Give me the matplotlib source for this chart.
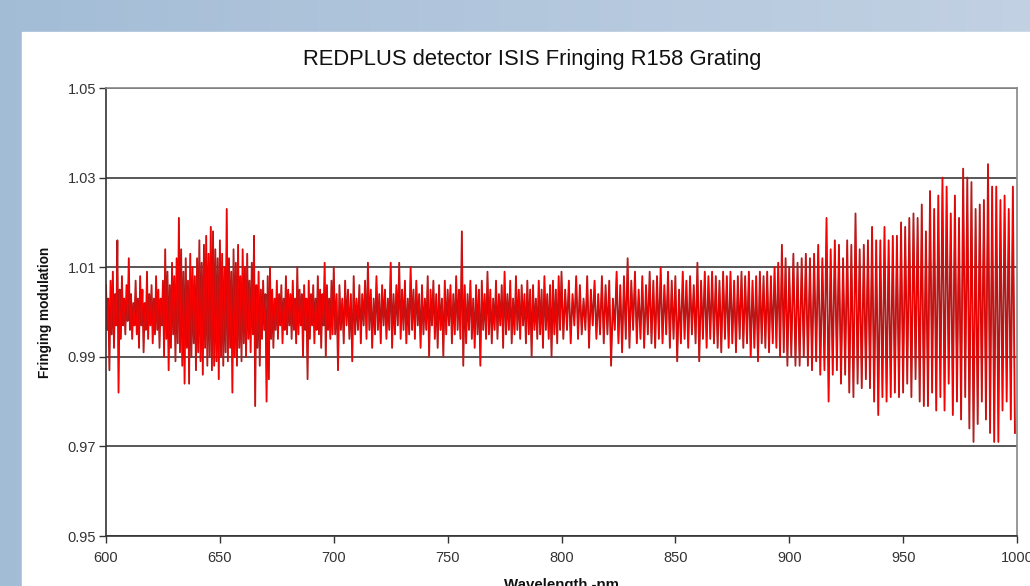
import matplotlib.pyplot as plt
import numpy as np
from matplotlib.patches import Rectangle

plt.rcParams['font.family'] = ['Liberation Sans', 'DejaVu Sans']

# fringing modulation, offsets from 1.0 in units of 0.001 (alternating peak / trough)
seg_600_700 = [
    6, -4, 3, -13, 7, -5, 9, -8, 4, -3, 16, -18, 5, -6, 8, -3, 3, -5, 6, -2,
    12, -4, 4, -6, 2, -3, 7, -5, 3, -8, 8, -3, 5, -9, 2, -4, 9, -6, 4, -3,
    6, -7, 3, -5, 8, -4, 5, -8, 3, -3, 7, -10, 14, -6, 9, -13, 6, -8, 11, -5,
    8, -11, 12, -7, 21, -9, 14, -12, 9, -16, 12, -8, 7, -16, 13, -10, 10, -7, 8, -13,
    12, -9, 16, -11, 11, -14, 15, -8, 17, -12, 13, -10, 19, -13, 18, -12, 14, -11, 12, -15,
    16, -10, 13, -12, 10, -9, 23, -11, 12, -8, 9, -18, 14, -10, 11, -12, 15, -8, 8, -11,
    14, -7, 10, -10, 13, -6, 7, -9, 11, -5, 17, -21, 6, -8, 9, -12, 5, -6, 7, -4,
    4, -20, 8, -15, 10, -6, 5, -8, 3, -4, 7, -6, 4, -3, 6, -7, 3, -4, 8, -5,
    5, -3, 4, -6, 7, -4, 3, -7, 10, -5, 5, -3, 4, -10, 6, -4, 3, -15, 7, -6,
    4, -3, 6, -7, 3, -4, 8, -5, 5, -8, 4, -3, 11, -10, 6, -4, 3, -6, 7, -5,
]
seg_700_800 = [
    10, -5, 4, -13, 6, -4, 3, -7, 7, -3, 5, -6, 4, -11, 8, -5, 3, -4, 6, -7,
    4, -3, 7, -6, 11, -4, 5, -8, 3, -5, 8, -4, 4, -7, 6, -3, 5, -6, 3, -4,
    11, -8, 4, -5, 6, -3, 11, -6, 5, -4, 7, -7, 3, -5, 10, -4, 5, -6, 7, -3,
    4, -8, 6, -5, 3, -4, 8, -10, 5, -3, 7, -6, 4, -8, 6, -4, 3, -10, 7, -5,
    5, -3, 6, -7, 4, -5, 8, -4, 5, -6, 18, -12, 6, -7, 4, -4, 7, -6, 3, -8,
    6, -5, 5, -12, 7, -4, 4, -6, 9, -5, 5, -7, 3, -4, 7, -6, 4, -3, 6, -8,
    9, -5, 4, -4, 7, -7, 3, -5, 8, -4, 5, -6, 6, -3, 4, -7, 7, -5, 5, -10,
    6, -4, 3, -6, 7, -5, 5, -8, 8, -4, 4, -6, 6, -10, 7, -5, 5, -7, 8, -4,
]
seg_800_900 = [
    9, -6, 5, -4, 7, -7, 4, -3, 8, -6, 6, -5, 3, -4, 8, -8, 5, -3, 7, -6,
    4, -5, 8, -7, 6, -5, 7, -12, 3, -4, 9, -7, 6, -9, 8, -6, 12, -8, 7, -4,
    9, -7, 5, -6, 8, -8, 6, -5, 9, -7, 7, -8, 8, -6, 10, -7, 6, -5, 9, -8,
    7, -6, 8, -11, 5, -7, 9, -6, 7, -8, 8, -5, 6, -7, 11, -11, 7, -6, 9, -8,
    8, -6, 9, -7, 8, -8, 7, -9, 9, -6, 8, -8, 9, -7, 7, -9, 8, -6, 9, -8,
    8, -7, 9, -10, 7, -8, 8, -11, 9, -7, 8, -8, 9, -9, 8, -7, 10, -8, 11, -10,
    15, -9, 12, -12,
]
seg_900_1000 = [
    10, -10, 13, -12, 11, -12, 12, -10, 13, -12, 12, -13, 13, -11, 15, -14, 12, -13, 21, -20,
    14, -14, 16, -13, 15, -16, 12, -14, 16, -18, 15, -19, 22, -16, 14, -17, 15, -15, 16, -17,
    19, -20, 16, -23, 16, -19, 19, -20, 16, -19, 17, -18, 17, -19, 20, -18, 19, -16, 21, -19,
    22, -15, 21, -20, 24, -21, 18, -21, 27, -18, 23, -22, 26, -19, 30, -22, 28, -16, 22, -23,
    26, -20, 21, -24, 32, -19, 30, -26, 29, -29, 23, -25, 24, -20, 25, -24, 33, -27, 28, -29,
    28, -29, 25, -22, 26, -20, 23, -24, 28, -27,
]
segments = [(600, seg_600_700), (700, seg_700_800), (800, seg_800_900), (900, seg_900_1000)]

x_ticks = [600, 650, 700, 750, 800, 850, 900, 950, 1000]
y_ticks = [0.95, 0.97, 0.99, 1.01, 1.03, 1.05]

wl = np.concatenate([np.linspace(s, s + 100, len(v), endpoint=False) for s, v in segments])
mod = 1 + np.concatenate([np.array(v, float) for _, v in segments]) / 1000

fig = plt.figure(figsize=(10.3, 5.86), dpi=100)

# slide background: blue gradient and white panel
bg = fig.add_axes([0, 0, 1, 1], zorder=-10)
grad = np.linspace(0, 1, 256)[None, :, None]
c0 = np.array([0.64, 0.74, 0.84])
c1 = np.array([0.76, 0.82, 0.89])
bg.imshow(c0 + (c1 - c0) * grad, aspect='auto', extent=[0, 1, 0, 1])
bg.add_patch(Rectangle((22 / 1030, 0), 1, 1 - 32 / 586, color='white'))
bg.set_xlim(0, 1)
bg.set_ylim(0, 1)
bg.axis('off')

ax = fig.add_axes([106 / 1030, 50 / 586, 911 / 1030, 448 / 586])
ax.plot(wl, mod, color='#a81818', lw=1.3)
ax.plot(wl, mod, color='#ff0000', lw=0.6)

ax.set_xlim(600, 1000)
ax.set_ylim(0.95, 1.05)
ax.set_xticks(x_ticks)
ax.set_yticks(y_ticks)
ax.set_yticklabels([f'{v:.2f}' for v in y_ticks])
ax.tick_params(direction='out', length=5, width=1, color='#333333',
               labelsize=10.5, labelcolor='#333333')
ax.tick_params(axis='x', pad=6)
ax.tick_params(axis='y', pad=2)
ax.yaxis.grid(True, color='#2a2a2a', lw=1.1)
ax.set_axisbelow(True)
for side in ['left', 'bottom']:
    ax.spines[side].set_color('#333333')
    ax.spines[side].set_linewidth(1.2)
for side in ['top', 'right']:
    ax.spines[side].set_color('#888888')
    ax.spines[side].set_linewidth(1.2)

ax.set_ylabel('Fringing modulation', fontsize=9.8, fontweight='bold', color='#111111')
ax.yaxis.set_label_coords(-0.059, 0.5)
ax.set_xlabel('Wavelength -nm', fontsize=10.8, fontweight='bold', color='#111111')
ax.xaxis.set_label_coords(0.5, -0.094)

fig.text(532 / 1030, 1 - 60 / 586, 'REDPLUS detector ISIS Fringing R158 Grating',
         ha='center', va='center', fontsize=15.8, color='#111111')

fig.savefig('out.png', dpi=100)
